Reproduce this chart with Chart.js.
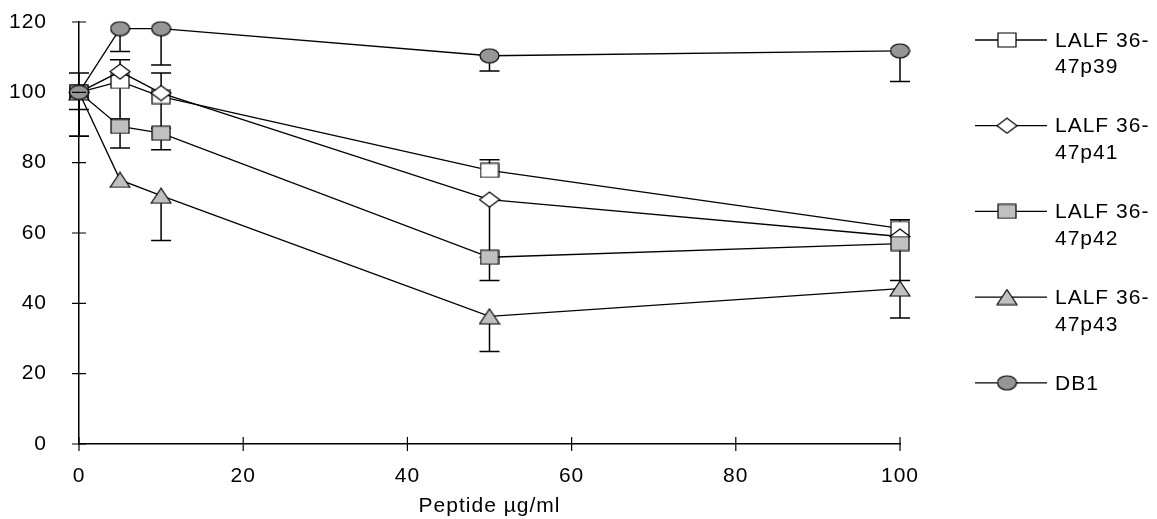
<!DOCTYPE html>
<html>
<head>
<meta charset="utf-8">
<script src="https://cdn.jsdelivr.net/npm/chart.js@4"></script>
<style>
  html, body { margin: 0; padding: 0; background: #fff; }
  #wrap { width: 1157px; height: 519px; }
</style>
</head>
<body>
<div id="wrap"><canvas id="myChart" width="1157" height="519"></canvas></div>
<script>
'use strict';

// Data
var doses = [0, 5, 10, 50, 100];
var xTicks = [0, 20, 40, 60, 80, 100];
var yTicks = [0, 20, 40, 60, 80, 100, 120];

var p39 = [100, 103.1, 98.8, 77.8, 61.3];
var p39Plus = [0, 0, 0, 3, 2.5];
var p39Minus = [4.9, 10.7, 9, 0, 0];

var p41 = [100, 105.9, 99.8, 69.5, 59];
var p41Plus = [5.5, 3.4, 5.7, 0, 0];
var p41Minus = [0, 0, 0, 16.4, 0];

var p42 = [100, 90.3, 88.4, 53.1, 57];
var p42Plus = [0, 0, 0, 0, 0];
var p42Minus = [12.5, 6.1, 4.7, 6.6, 10.5];

var p43 = [100, 75.1, 70.6, 36.3, 44.2];
var p43Plus = [0, 0, 0, 0, 0];
var p43Minus = [12.5, 0, 12.7, 10, 8.4];

var db1 = [100, 118.1, 118.1, 110.4, 111.8];
var db1Plus = [0, 0, 0, 0, 0];
var db1Minus = [0, 6.5, 10.3, 4.3, 8.7];

var FONT = '"Liberation Sans", Arial, sans-serif';
var LIGHT = '#c0c0c0';
var DARK = '#969696';

// Marker images (stretched like the original)
function makeMarker(shape, w, h, fill) {
  var c = document.createElement('canvas');
  c.width = w + 2;
  c.height = h + 2;
  var g = c.getContext('2d');
  g.fillStyle = fill;
  g.strokeStyle = '#000';
  g.lineWidth = 1.2;
  g.beginPath();
  if (shape === 'rect') {
    g.rect(1, 1, w, h);
  } else if (shape === 'diamond') {
    g.moveTo(1 + w / 2, 1);
    g.lineTo(1 + w, 1 + h / 2);
    g.lineTo(1 + w / 2, 1 + h);
    g.lineTo(1, 1 + h / 2);
    g.closePath();
  } else if (shape === 'triangle') {
    g.moveTo(1 + w / 2, 1);
    g.lineTo(1 + w, 1 + h);
    g.lineTo(1, 1 + h);
    g.closePath();
  } else {
    g.ellipse(1 + w / 2, 1 + h / 2, w / 2, h / 2, 0, 0, Math.PI * 2);
  }
  g.fill();
  g.stroke();
  return c;
}

var markers = {
  p39: makeMarker('rect', 18, 14, '#fff'),
  p41: makeMarker('diamond', 20, 15, '#fff'),
  p42: makeMarker('rect', 18, 14, LIGHT),
  p43: makeMarker('triangle', 20, 15, LIGHT),
  db1: makeMarker('ellipse', 19, 14, DARK)
};

function pts(vals) {
  return vals.map(function(v, i) {
    return { x: doses[i], y: v };
  });
}

function series(label, vals, plus, minus, marker, order) {
  return {
    label: label,
    data: pts(vals),
    errPlus: plus,
    errMinus: minus,
    borderColor: '#000',
    borderWidth: 1.3,
    pointStyle: marker,
    pointRadius: 10,
    pointHoverRadius: 10,
    fill: false,
    tension: 0,
    clip: false,
    order: order
  };
}

// Slightly wider letter spacing, like the original
var spacing = {
  id: 'spacing',
  beforeDraw: function(chart) {
    chart.ctx.letterSpacing = '1px';
  }
};

// Error bars from the data arrays, through the scales
var errorBars = {
  id: 'errorBars',
  beforeDatasetsDraw: function(chart) {
    var ctx = chart.ctx;
    var xs = chart.scales.x;
    var ys = chart.scales.y;
    ctx.save();
    ctx.strokeStyle = '#000';
    ctx.lineWidth = 1.5;
    chart.data.datasets.forEach(function(ds) {
      ds.data.forEach(function(p, i) {
        var px = xs.getPixelForValue(p.x);
        var py = ys.getPixelForValue(p.y);
        [ds.errPlus[i], -ds.errMinus[i]].forEach(function(e) {
          if (!e) return;
          var ey = ys.getPixelForValue(p.y + e);
          ctx.beginPath();
          ctx.moveTo(px, py);
          ctx.lineTo(px, ey);
          ctx.moveTo(px - 10, ey);
          ctx.lineTo(px + 10, ey);
          ctx.stroke();
        });
      });
    });
    ctx.restore();
  }
};

// Cross ticks on both axes
var crossTicks = {
  id: 'crossTicks',
  afterDraw: function(chart) {
    var ctx = chart.ctx;
    var xs = chart.scales.x;
    var ys = chart.scales.y;
    var a = chart.chartArea;
    ctx.save();
    ctx.strokeStyle = '#000';
    ctx.lineWidth = 1.2;
    ctx.beginPath();
    xTicks.forEach(function(t) {
      var px = xs.getPixelForValue(t);
      ctx.moveTo(px, a.bottom - 7);
      ctx.lineTo(px, a.bottom + 7);
    });
    yTicks.forEach(function(t) {
      var py = ys.getPixelForValue(t);
      ctx.moveTo(a.left - 7, py);
      ctx.lineTo(a.left + 7, py);
    });
    ctx.stroke();
    ctx.restore();
  }
};

// Legend on the right
var sideLegend = {
  id: 'sideLegend',
  afterDraw: function(chart) {
    var ctx = chart.ctx;
    ctx.save();
    ctx.font = '21px ' + FONT;
    ctx.letterSpacing = '1px';
    ctx.fillStyle = '#000';
    ctx.textBaseline = 'middle';
    chart.data.datasets.forEach(function(ds, i) {
      var y = 40 + i * 85.7;
      ctx.strokeStyle = '#000';
      ctx.lineWidth = 1.3;
      ctx.beginPath();
      ctx.moveTo(975, y);
      ctx.lineTo(1047, y);
      ctx.stroke();
      var m = ds.pointStyle;
      ctx.drawImage(m, 1007 - m.width / 2, y - m.height / 2);
      var lines = ds.legendLines || [ds.label];
      lines.forEach(function(t, k) {
        ctx.fillText(t, 1055, y + 1 + k * 26.7);
      });
    });
    ctx.restore();
  }
};

var datasets = [
  series('LALF 36-47p39', p39, p39Plus, p39Minus, markers.p39, 5),
  series('LALF 36-47p41', p41, p41Plus, p41Minus, markers.p41, 4),
  series('LALF 36-47p42', p42, p42Plus, p42Minus, markers.p42, 3),
  series('LALF 36-47p43', p43, p43Plus, p43Minus, markers.p43, 2),
  series('DB1', db1, db1Plus, db1Minus, markers.db1, 1)
];
datasets[0].legendLines = ['LALF 36-', '47p39'];
datasets[1].legendLines = ['LALF 36-', '47p41'];
datasets[2].legendLines = ['LALF 36-', '47p42'];
datasets[3].legendLines = ['LALF 36-', '47p43'];

Chart.defaults.font.family = FONT;
Chart.defaults.font.size = 21;
Chart.defaults.color = '#000';

function noPad(scale) {
  scale.paddingTop = 0;
  scale.paddingBottom = 0;
  scale.paddingLeft = 0;
  scale.paddingRight = 0;
}

var ctx = document.getElementById('myChart').getContext('2d');

var chart = new Chart(ctx, {
  type: 'line',
  data: { datasets: datasets },
  plugins: [spacing, errorBars, crossTicks, sideLegend],
  options: {
    responsive: false,
    animation: false,
    events: [],
    layout: { padding: { top: 22, right: 257, left: 0, bottom: 0 } },
    plugins: {
      legend: { display: false },
      tooltip: { enabled: false }
    },
    scales: {
      x: {
        type: 'linear',
        min: 0,
        max: 100,
        afterBuildTicks: function(scale) {
          scale.ticks = xTicks.map(function(v) { return { value: v }; });
        },
        afterFit: function(scale) {
          scale.height = 75;
          noPad(scale);
        },
        grid: { display: false, drawTicks: false },
        border: { color: '#000', width: 1.5 },
        ticks: { padding: 20, font: { size: 21 } },
        title: {
          display: true,
          text: 'Peptide µg/ml',
          font: { size: 21 },
          padding: { top: 4, bottom: 0 }
        }
      },
      y: {
        min: 0,
        max: 120,
        afterBuildTicks: function(scale) {
          scale.ticks = yTicks.map(function(v) { return { value: v }; });
        },
        afterFit: function(scale) {
          scale.width = 79;
          noPad(scale);
        },
        grid: { display: false, drawTicks: false },
        border: { color: '#000', width: 1.5 },
        ticks: { padding: 32, font: { size: 21 } }
      }
    }
  }
});
</script>
</body>
</html>
